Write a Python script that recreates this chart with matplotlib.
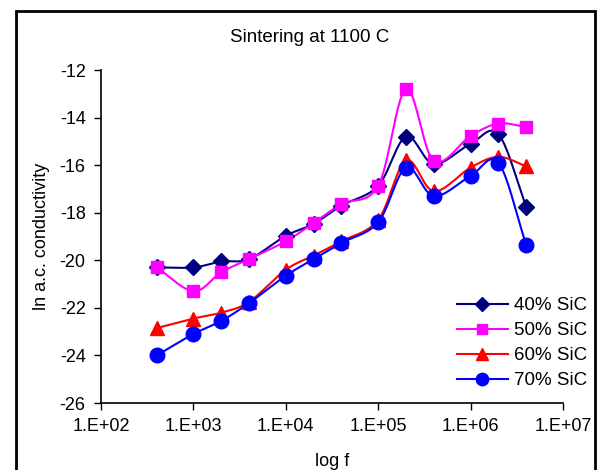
import matplotlib
matplotlib.use("Agg")
import matplotlib.pyplot as plt
from matplotlib.lines import Line2D
from matplotlib.patches import Rectangle
import numpy as np

plt.rcParams['font.family'] = ['Liberation Sans', 'DejaVu Sans']
plt.rcParams['axes.unicode_minus'] = False

freq = [4e2, 1e3, 2e3, 4e3, 1e4, 2e4, 4e4, 1e5, 2e5, 4e5, 1e6, 2e6, 4e6]

sic40 = [-20.3, -20.3, -20.05, -19.95, -18.97, -18.47, -17.7, -16.87, -14.8, -15.95, -15.1, -14.7, -17.75]
sic50 = [-20.3, -21.3, -20.5, -19.95, -19.2, -18.43, -17.63, -16.87, -12.8, -15.82, -14.77, -14.25, -14.4]
sic60 = [-22.85, -22.45, -22.2, -21.75, -20.4, -19.8, -19.2, -18.3, -15.8, -17.1, -16.1, -15.65, -16.05]
sic70 = [-24.0, -23.1, -22.55, -21.8, -20.65, -19.95, -19.27, -18.4, -16.1, -17.3, -16.45, -15.9, -19.35]

labels = ['40% SiC', '50% SiC', '60% SiC', '70% SiC']
colors = ['#000080', '#FF00FF', '#FF0000', '#0000FF']
markers = ['D', 's', '^', 'o']
msizes = [8, 8.5, 9.5, 10.5]


def smooth(x, y, n=20):
    # Catmull-Rom curve through the points, worked out in log10(x)
    lx = np.log10(x)
    y = np.asarray(y, dtype=float)
    px = np.concatenate([[2 * lx[0] - lx[1]], lx, [2 * lx[-1] - lx[-2]]])
    py = np.concatenate([[2 * y[0] - y[1]], y, [2 * y[-1] - y[-2]]])
    t = np.linspace(0, 1, n)[:, None]
    out_x, out_y = [], []
    for i in range(1, len(px) - 2):
        for p, out in ((px, out_x), (py, out_y)):
            p0, p1, p2, p3 = p[i - 1], p[i], p[i + 1], p[i + 2]
            c = 0.5 * ((2 * p1) + (-p0 + p2) * t + (2 * p0 - 5 * p1 + 4 * p2 - p3) * t ** 2
                       + (-p0 + 3 * p1 - 3 * p2 + p3) * t ** 3)
            out.append(c.ravel())
    return 10 ** np.concatenate(out_x), np.concatenate(out_y)


fig = plt.figure(figsize=(5.97, 4.70), dpi=100)
ax = fig.add_axes([101 / 597, 67 / 470, 462 / 597, 333 / 470])

series = [sic40, sic50, sic60, sic70]
for vals, col, mk, ms in zip(series, colors, markers, msizes):
    sx, sy = smooth(freq, vals)
    ax.plot(sx, sy, color=col, lw=1.5, zorder=2)
    ax.plot(freq, vals, linestyle='none', marker=mk, ms=ms, color=col, zorder=3)

ax.set_xscale('log')
ax.set_xlim(1e2, 1e7)
ax.set_ylim(-26, -12)
ax.set_yticks(np.arange(-26, -11, 2))
ax.set_xticks([1e2, 1e3, 1e4, 1e5, 1e6, 1e7])
ax.set_xticklabels(['1.E+02', '1.E+03', '1.E+04', '1.E+05', '1.E+06', '1.E+07'])
ax.xaxis.set_minor_locator(matplotlib.ticker.NullLocator())
ax.tick_params(labelsize=13, length=5, width=1, direction='out', pad=6)
ax.spines['top'].set_visible(False)
ax.spines['right'].set_visible(False)
for s in ('left', 'bottom'):
    ax.spines[s].set_linewidth(1.2)

ax.set_xlabel('log f', fontsize=13, labelpad=13)
ax.set_ylabel('ln a.c. conductivity', fontsize=13, labelpad=7)
fig.text(310 / 597, 1 - 38 / 470, 'Sintering at 1100 C', ha='center', va='center', fontsize=13.5)

handles = [Line2D([], [], color=c, marker=m, ms=ms * 0.85, lw=1.5)
           for c, m, ms in zip(colors, markers, msizes)]
fig.legend(handles, labels, loc='upper left', bbox_to_anchor=(457 / 597, 1 - 297 / 470),
           frameon=False, fontsize=13.5, handlelength=2.7, handletextpad=0.35,
           labelspacing=0.42, borderpad=0, borderaxespad=0)

# outer chart frame
fig.patches.append(Rectangle((16, -10), 579, 470 + 10 - 11, transform=None,
                             fill=False, edgecolor='black', lw=2))

fig.savefig('out.png', dpi=100)
